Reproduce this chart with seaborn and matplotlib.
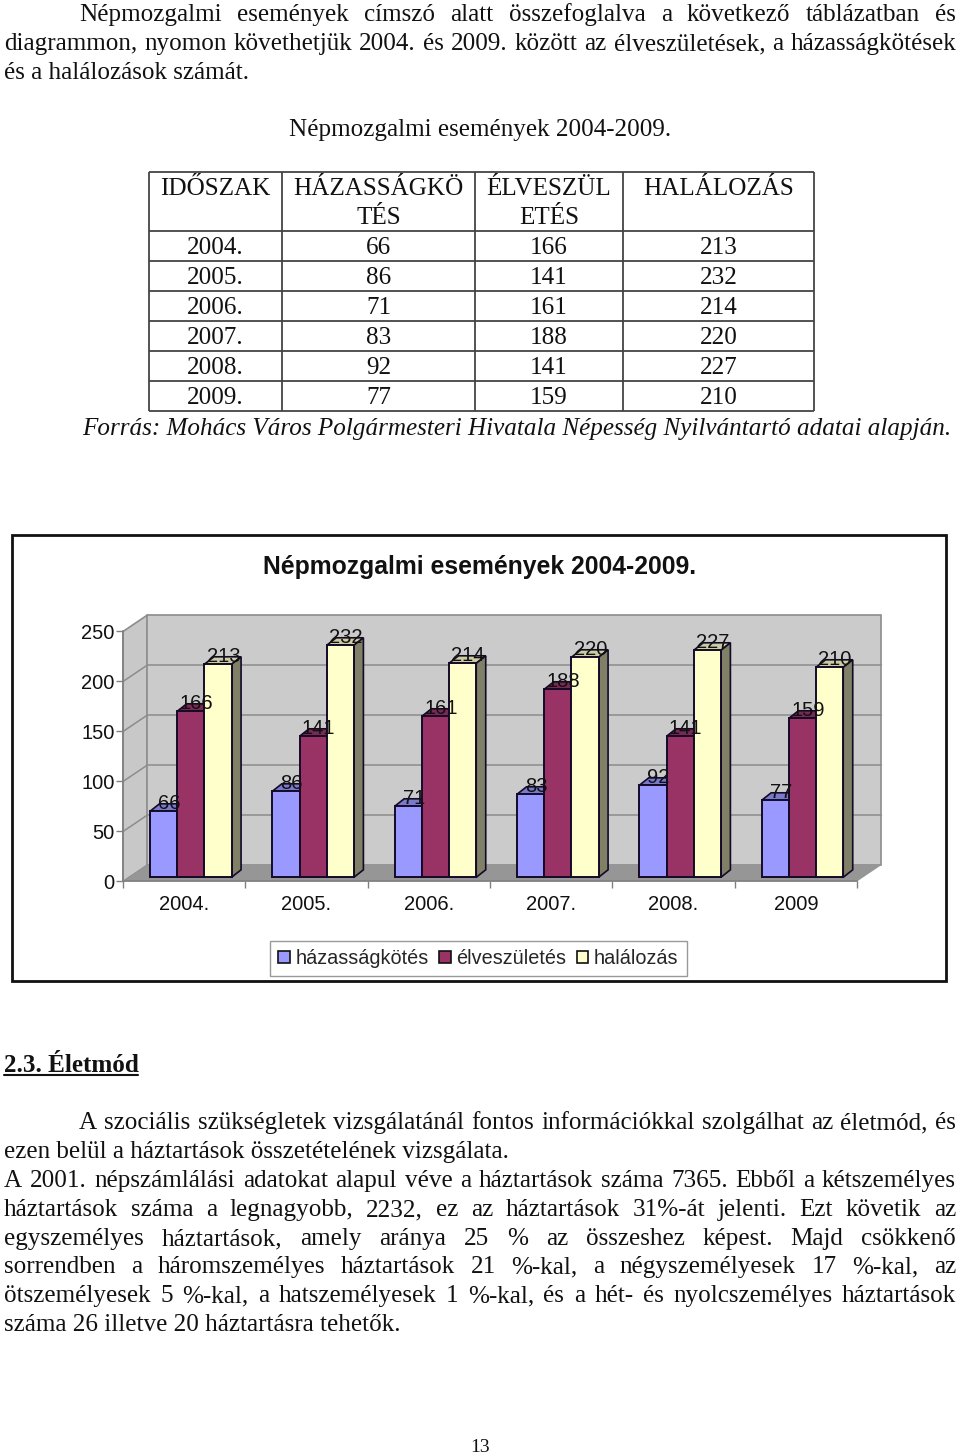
import pandas as pd
import matplotlib.pyplot as plt
import seaborn as sns
from matplotlib.patches import Polygon, Rectangle

# Chart and table values
years = ['2004.', '2005.', '2006.', '2007.', '2008.', '2009']
table_years = ['2004.', '2005.', '2006.', '2007.', '2008.', '2009.']
hazassag = [66, 86, 71, 83, 92, 77]
elveszuletes = [166, 141, 161, 188, 141, 159]
halalozas = [213, 232, 214, 220, 227, 210]
series_names = ['házasságkötés', 'élveszületés', 'halálozás']
colors = ['#9999FF', '#993366', '#FFFFCC']
top_colors = ['#7A7ACC', '#7A2952', '#CCCCA3']
side_colors = ['#5C5C99', '#5C1F3D', '#808066']

W, H = 960, 1456
SERIF = 'Liberation Serif'
SANS = 'Liberation Sans'
BODY = 18.1

sns.set_theme(style='white')
plt.rcParams['font.family'] = [SANS, 'DejaVu Sans']

fig = plt.figure(figsize=(W / 100, H / 100), dpi=100, facecolor='white')

# whole page axes in pixel units, for the document text
page = fig.add_axes([0, 0, 1, 1])
page.set_xlim(0, W)
page.set_ylim(H, 0)
page.axis('off')
renderer = fig.canvas.get_renderer()


def justified(line, x0, x1, y):
    words = line.split()
    items = [page.text(0, y + 2, w, family=SERIF, fontsize=BODY, va='center', color='#111111') for w in words]
    widths = [t.get_window_extent(renderer).width for t in items]
    gap = (x1 - x0 - sum(widths)) / (len(words) - 1)
    x = x0
    for t, w in zip(items, widths):
        t.set_x(x)
        x += w + gap


def plain(line, x, y, ha='left', **kw):
    style = dict(family=SERIF, fontsize=BODY, va='center', ha=ha, color='#111111')
    style.update(kw)
    return page.text(x, y + 2, line, **style)


# upper text
justified('Népmozgalmi események címszó alatt összefoglalva a következő táblázatban és', 79, 956, 13)
justified('diagrammon, nyomon követhetjük 2004. és 2009. között az élveszületések, a házasságkötések', 4, 956, 42)
plain('és a halálozások számát.', 4, 71)
plain('Népmozgalmi események 2004-2009.', 480, 128, ha='center')

# table
col_x = [149, 282, 475, 623, 814]
row_y = [171.5, 230.5, 260.5, 290.5, 320.5, 350.5, 380.5, 410.5]
page.hlines(row_y, col_x[0], col_x[-1], color='#444444', lw=1.3)
page.vlines(col_x, row_y[0], row_y[-1], color='#444444', lw=1.3)
col_mid = [(a + b) / 2 for a, b in zip(col_x[:-1], col_x[1:])]
header = [['IDŐSZAK'], ['HÁZASSÁGKÖ', 'TÉS'], ['ÉLVESZÜL', 'ETÉS'], ['HALÁLOZÁS']]
for xm, lines in zip(col_mid, header):
    for line, y in zip(lines, [187, 216]):
        plain(line, xm, y, ha='center')
rows = zip(table_years, hazassag, elveszuletes, halalozas)
for y, row in zip([246, 276, 306, 336, 366, 396], rows):
    for xm, val in zip(col_mid, row):
        plain(str(val), xm, y, ha='center')
plain('Forrás: Mohács Város Polgármesteri Hivatala Népesség Nyilvántartó adatai alapján.', 517, 427,
      ha='center', style='italic')

# chart frame
page.add_patch(Rectangle((12, 535), 934, 446, fc='white', ec='#111111', lw=2))
page.text(480, 567, 'Népmozgalmi események 2004-2009.', family=SANS, fontsize=17.8, fontweight='bold',
          ha='center', va='center', color='#111111')

# lower text
plain('2.3. Életmód', 4, 1063, fontweight='bold')
page.plot([4, 138], [1075, 1075], color='#111111', lw=1.5)
justified('A szociális szükségletek vizsgálatánál fontos információkkal szolgálhat az életmód, és', 79, 956, 1121)
plain('ezen belül a háztartások összetételének vizsgálata.', 4, 1150)
justified('A 2001. népszámlálási adatokat alapul véve a háztartások száma 7365. Ebből a kétszemélyes', 4, 956, 1179)
justified('háztartások száma a legnagyobb, 2232, ez az háztartások 31%-át jelenti. Ezt követik az', 4, 956, 1208)
justified('egyszemélyes háztartások, amely aránya 25 % az összeshez képest. Majd csökkenő', 4, 956, 1237)
justified('sorrendben a háromszemélyes háztartások 21 %-kal, a négyszemélyesek 17 %-kal, az', 4, 956, 1265)
justified('ötszemélyesek 5 %-kal, a hatszemélyesek 1 %-kal, és a hét- és nyolcszemélyes háztartások', 4, 956, 1294)
plain('száma 26 illetve 20 háztartásra tehetők.', 4, 1323)
plain('13', 480, 1446, ha='center', fontsize=14)

# chart axes: 1 value unit is about 1 pixel
left, right, bottom, top = 123, 857, 881.5, 631.5
ax = fig.add_axes([left / W, 1 - bottom / H, (right - left) / W, (bottom - top) / H])
ax.patch.set_alpha(0)

df = pd.DataFrame({
    'year': years * 3,
    'series': [s for s in series_names for _ in years],
    'value': hazassag + elveszuletes + halalozas,
})
sns.barplot(data=df, x='year', y='value', hue='series', hue_order=series_names, palette=colors,
            saturation=1, width=0.667, gap=0, edgecolor='#140A28', linewidth=1.4, ax=ax, zorder=3)
ax.set_xlim(-0.5, 5.5)
ax.set_ylim(0, 250)
ax.set_xlabel('')
ax.set_ylabel('')

# walls and floor of the 3D box
wall_dx, wall_dy = 0.2, 16.5
wall_style = dict(ec='#8C8C8C', lw=1.2, clip_on=False)
ax.add_patch(Polygon([(-0.5, 0), (-0.5 + wall_dx, wall_dy), (-0.5 + wall_dx, 250 + wall_dy), (-0.5, 250)],
                     fc='#C8C8C8', zorder=0, **wall_style))
ax.add_patch(Rectangle((-0.5 + wall_dx, wall_dy), 6, 250, fc='#CBCBCB', zorder=0, **wall_style))
ax.add_patch(Polygon([(-0.5, 0), (-0.5 + wall_dx, wall_dy), (5.5 + wall_dx, wall_dy), (5.5, 0)],
                     fc='#969696', zorder=0.5, ec='none', clip_on=False))
for v in [50, 100, 150, 200]:
    ax.plot([-0.5, -0.5 + wall_dx, 5.5 + wall_dx], [v, v + wall_dy, v + wall_dy], color='#8C8C8C', lw=1.1,
            zorder=0.4, clip_on=False)

# 3D bars: bars sit a little inside the box, with a top and a side face
bar_dx, bar_dy = 0.054, 4.2
depth_x, depth_y = 9.5 / 122.33, 7.5
edge = dict(ec='#140A28', lw=1.2, clip_on=False)
n = len(years)
bars = list(ax.patches)
bars = [b for b in bars if isinstance(b, Rectangle) and b.get_width() < 0.5 and b.get_height() > 0][:n * 3]
for i, bar in enumerate(bars):
    hue_i = i // n
    x0 = bar.get_x() + bar_dx
    x1 = x0 + bar.get_width()
    val = bar.get_height()
    y0 = bar_dy
    y1 = val + bar_dy
    bar.set_x(x0)
    bar.set_y(y0)
    bar.set_clip_on(False)
    z = 3 + hue_i
    bar.set_zorder(z)
    ax.add_patch(Polygon([(x0, y1), (x0 + depth_x, y1 + depth_y), (x1 + depth_x, y1 + depth_y), (x1, y1)],
                         fc=top_colors[hue_i], zorder=z - 0.2, **edge))
    ax.add_patch(Polygon([(x1, y0), (x1 + depth_x, y0 + depth_y), (x1 + depth_x, y1 + depth_y), (x1, y1)],
                         fc=side_colors[hue_i], zorder=z - 0.1, **edge))
    ax.text(x0 + bar.get_width() / 2 + 0.045, y1 + 7.5, str(int(val)), fontsize=14.5, ha='center', va='center',
            color='#111111', zorder=10, clip_on=False)

# axis lines and ticks
sns.despine(ax=ax, top=True, right=True)
for side in ['left', 'bottom']:
    ax.spines[side].set_color('#808080')
    ax.spines[side].set_linewidth(1.2)
ax.set_yticks([0, 50, 100, 150, 200, 250])
ax.tick_params(axis='y', left=True, length=5, width=1, color='#808080', labelsize=14.5, labelcolor='#111111', pad=1)
ax.set_xticks(range(n))
ax.set_xticklabels(years)
ax.tick_params(axis='x', bottom=False, length=0, labelsize=14.5, labelcolor='#111111', pad=10)
ax.set_xticks([i - 0.5 for i in range(n + 1)], minor=True)
ax.tick_params(axis='x', which='minor', bottom=True, length=5, width=1, color='#808080')

sns.move_legend(ax, 'center', bbox_to_anchor=(478.5 / W, 1 - 958.5 / H), bbox_transform=fig.transFigure,
                ncol=3, title=None, frameon=True, fancybox=False, framealpha=1, edgecolor='#999999',
                fontsize=14.3, handlelength=0.6, handleheight=0.6, handletextpad=0.28, columnspacing=0.5,
                borderpad=0.42)
leg = ax.get_legend()
leg.set_zorder(20)
for h in leg.legend_handles:
    h.set_edgecolor('#111111')
    h.set_linewidth(1.2)

fig.savefig('out.png', dpi=100, facecolor='white')
